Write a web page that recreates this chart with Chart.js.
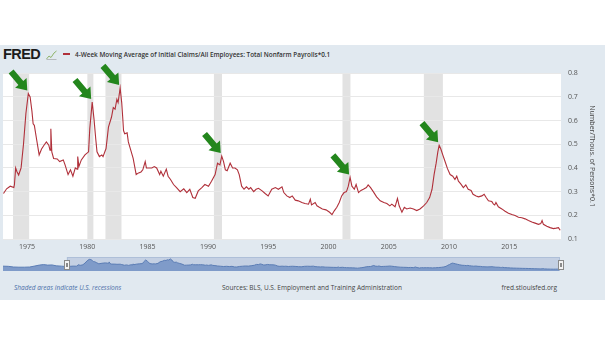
<!DOCTYPE html>
<html><head><meta charset="utf-8">
<script src="https://cdn.jsdelivr.net/npm/chart.js@4/dist/chart.umd.min.js"></script>
<style>
html,body{margin:0;padding:0;background:#fff;width:605px;height:341px;overflow:hidden;font-family:"Open Sans",sans-serif;}
#panel{position:absolute;left:0;top:45px;width:605px;height:255px;background:#e1e9f0;}
#logo{position:absolute;left:3px;top:46px;font-family:"Liberation Sans",Arial,sans-serif;font-weight:bold;font-size:14.5px;letter-spacing:-0.6px;color:#1c1c1c;line-height:16px;}
#icon{position:absolute;left:46px;top:50px;}
#legend{position:absolute;left:63px;top:50px;font-size:6.4px;font-weight:600;color:#333;line-height:10px;white-space:nowrap;}
#legend .dash{display:inline-block;width:7px;height:1.6px;background:#b0303a;vertical-align:middle;margin-right:5px;position:relative;top:-1px;}
.foot{position:absolute;top:283px;font-size:6.5px;line-height:10px;white-space:nowrap;color:#444;}
canvas{position:absolute;left:0;}
</style></head><body>
<div id="panel"></div>
<div id="logo">FRED</div>
<svg id="icon" width="11" height="10" viewBox="0 0 11 10"><polyline points="0.5,9 3,6 5,7.5 8,3 10.5,1" fill="none" stroke="#8fb46a" stroke-width="1"/><line x1="0.5" y1="9.5" x2="10.5" y2="9.5" stroke="#999" stroke-width="0.6"/></svg>
<div id="legend"><span class="dash"></span>4-Week Moving Average of Initial Claims/All Employees: Total Nonfarm Payrolls*0.1</div>
<canvas id="main" width="605" height="193" style="top:62px;width:605px;height:193px"></canvas>
<canvas id="nav" width="605" height="20" style="top:255px;width:605px;height:20px"></canvas>
<div class="foot" style="left:14px;color:#4a6ea8;font-style:italic;">Shaded areas indicate U.S. recessions</div>
<div class="foot" style="left:222px;">Sources: BLS, U.S. Employment and Training Administration</div>
<div class="foot" style="right:48px;">fred.stlouisfed.org</div>
<script>
// ---- data ----
const years = [1973.04,1973.3,1973.6,1973.9,1973.95,1974.05,1974.15,1974.3,1974.5,1974.7,1974.9,1975.1,1975.25,1975.4,1975.5,1975.6,1975.8,1976.0,1976.2,1976.4,1976.6,1976.8,1976.9,1976.97,1977.05,1977.2,1977.5,1977.7,1978.0,1978.15,1978.4,1978.6,1978.8,1979.0,1979.15,1979.2,1979.3,1979.5,1979.8,1980.1,1980.2,1980.4,1980.55,1980.7,1980.8,1981.0,1981.2,1981.3,1981.55,1981.75,1982.0,1982.15,1982.3,1982.45,1982.55,1982.72,1982.85,1982.95,1983.0,1983.1,1983.3,1983.4,1983.6,1983.8,1984.05,1984.25,1984.45,1984.6,1984.8,1984.9,1985.1,1985.35,1985.55,1985.75,1986.0,1986.1,1986.3,1986.55,1986.7,1986.9,1987.15,1987.4,1987.7,1988.0,1988.25,1988.5,1988.75,1988.95,1989.2,1989.5,1989.75,1990.05,1990.3,1990.6,1990.8,1991.0,1991.15,1991.3,1991.45,1991.6,1991.85,1992.05,1992.25,1992.45,1992.6,1992.8,1993.0,1993.2,1993.4,1993.55,1993.8,1994.0,1994.2,1994.5,1994.75,1995.0,1995.3,1995.6,1995.85,1996.15,1996.3,1996.55,1996.8,1997.0,1997.25,1997.5,1997.8,1998.05,1998.35,1998.5,1998.6,1998.9,1999.05,1999.25,1999.5,1999.8,2000.1,2000.3,2000.5,2000.7,2000.9,2001.1,2001.3,2001.5,2001.65,2001.8,2001.95,2002.15,2002.3,2002.5,2002.7,2002.9,2003.15,2003.3,2003.5,2003.75,2004.0,2004.3,2004.6,2004.85,2005.1,2005.26,2005.53,2005.73,2005.87,2006.1,2006.3,2006.5,2006.78,2007.06,2007.33,2007.6,2007.9,2008.16,2008.4,2008.6,2008.77,2008.94,2009.08,2009.19,2009.33,2009.49,2009.68,2009.88,2010.1,2010.32,2010.5,2010.65,2010.79,2010.98,2011.2,2011.4,2011.6,2011.84,2012.0,2012.26,2012.45,2012.73,2012.92,2013.09,2013.28,2013.56,2013.7,2013.8,2013.9,2014.1,2014.39,2014.66,2014.94,2015.22,2015.49,2015.77,2016.05,2016.32,2016.6,2016.88,2017.15,2017.43,2017.62,2017.73,2017.84,2018.12,2018.4,2018.67,2018.9,2019.09,2019.23];
const values = [0.292,0.312,0.323,0.317,0.33,0.40,0.385,0.37,0.40,0.50,0.63,0.714,0.70,0.64,0.586,0.58,0.517,0.455,0.48,0.496,0.51,0.496,0.475,0.565,0.468,0.44,0.438,0.427,0.434,0.413,0.372,0.392,0.365,0.40,0.395,0.448,0.406,0.434,0.455,0.468,0.565,0.678,0.607,0.52,0.468,0.448,0.455,0.448,0.482,0.572,0.614,0.655,0.648,0.69,0.676,0.738,0.676,0.60,0.558,0.544,0.548,0.51,0.475,0.44,0.372,0.379,0.383,0.392,0.427,0.40,0.40,0.40,0.406,0.40,0.372,0.386,0.365,0.395,0.365,0.351,0.33,0.317,0.30,0.312,0.296,0.31,0.275,0.272,0.303,0.317,0.33,0.323,0.344,0.372,0.42,0.413,0.45,0.427,0.392,0.388,0.42,0.40,0.40,0.392,0.372,0.323,0.31,0.32,0.31,0.317,0.30,0.31,0.314,0.303,0.292,0.282,0.31,0.317,0.31,0.32,0.296,0.282,0.275,0.282,0.264,0.261,0.254,0.25,0.247,0.268,0.244,0.254,0.24,0.234,0.227,0.223,0.213,0.203,0.22,0.234,0.254,0.282,0.296,0.30,0.323,0.36,0.323,0.31,0.33,0.296,0.305,0.31,0.317,0.328,0.317,0.298,0.278,0.261,0.254,0.25,0.24,0.247,0.236,0.271,0.24,0.213,0.234,0.227,0.231,0.227,0.22,0.227,0.24,0.254,0.275,0.31,0.372,0.42,0.468,0.496,0.48,0.455,0.427,0.397,0.372,0.365,0.351,0.365,0.344,0.333,0.317,0.328,0.31,0.305,0.289,0.282,0.278,0.282,0.289,0.275,0.261,0.258,0.247,0.244,0.254,0.236,0.227,0.217,0.209,0.203,0.199,0.192,0.19,0.185,0.178,0.172,0.167,0.162,0.165,0.178,0.162,0.154,0.148,0.144,0.146,0.148,0.137];
const navYearsPre = [1967.0,1967.5,1968.0,1968.5,1969.0,1969.5,1970.0,1970.4,1970.8,1971.2,1971.6,1972.0,1972.5,1972.9];
const navValuesPre = [0.32,0.31,0.27,0.26,0.26,0.27,0.33,0.38,0.41,0.38,0.39,0.34,0.32,0.30];
const recessionStarts = [1973.83,1980.0,1981.5,1990.5,2001.17,2007.92];
const recessionEnds   = [1975.17,1980.5,1982.83,1991.17,2001.83,2009.5];
const tickYears = [1975,1980,1985,1990,1995,2000,2005,2010,2015];
const yTicks = [0.1,0.2,0.3,0.4,0.5,0.6,0.7,0.8];
const arrowYears = [1975.1,1980.4,1982.72,1991.15,2001.8,2009.19];
const xMin = 1973.0, xMax = 2019.3, navMin = 1967.0;

// ---- plugins ----
const bgPlugin = {
  id:'bg',
  beforeDraw(chart){
    const {ctx, chartArea:a, scales:{x}} = chart;
    ctx.save();
    ctx.fillStyle = '#ffffff';
    ctx.fillRect(a.left, a.top, a.right-a.left, a.bottom-a.top);
    ctx.fillStyle = '#e2e2e2';
    recessionStarts.forEach((s,i)=>{
      const x0 = Math.max(a.left, x.getPixelForValue(s));
      const x1 = Math.min(a.right, x.getPixelForValue(recessionEnds[i]));
      ctx.fillRect(x0, a.top, x1-x0, a.bottom-a.top);
    });
    ctx.restore();
  }
};
const arrowPlugin = {
  id:'arrows',
  afterDatasetsDraw(chart){
    const {ctx, scales:{x,y}} = chart;
    ctx.save();
    ctx.fillStyle = '#23861c';
    arrowYears.forEach(yr=>{
      const i = years.indexOf(yr);
      const px = x.getPixelForValue(years[i]) - 1;
      const py = y.getPixelForValue(values[i]) - 3;
      const ang = Math.atan2(20,17);
      ctx.save();
      ctx.translate(px, py);
      ctx.rotate(ang);
      ctx.beginPath();
      ctx.moveTo(0,0); ctx.lineTo(-10,-7.5); ctx.lineTo(-10,-3.2); ctx.lineTo(-25,-3.2);
      ctx.lineTo(-25,3.2); ctx.lineTo(-10,3.2); ctx.lineTo(-10,7.5); ctx.closePath();
      ctx.fill();
      ctx.restore();
    });
    ctx.restore();
  }
};
const navPlugin = {
  id:'navband',
  beforeDatasetsDraw(chart){
    const {ctx, chartArea:a, scales:{x}} = chart;
    const x0 = x.getPixelForValue(xMin);
    ctx.save();
    ctx.fillStyle = '#c4d0e3';
    ctx.fillRect(x0, a.top, a.right-x0, a.bottom-a.top);
    ctx.strokeStyle = '#aebfd8'; ctx.lineWidth = 1;
    ctx.strokeRect(x0+0.5, a.top+0.5, a.right-x0-1, a.bottom-a.top-1);
    ctx.restore();
  },
  afterDraw(chart){
    const {ctx, chartArea:a, scales:{x}} = chart;
    const cy = (a.top+a.bottom)/2;
    [x.getPixelForValue(xMin), x.getPixelForValue(xMax)].forEach(hx=>{
      ctx.save();
      ctx.fillStyle='#f4f4f4'; ctx.strokeStyle='#8a8a8a'; ctx.lineWidth=1;
      const l = Math.round(hx-2.5)+0.5, t = Math.round(cy-4.5)+0.5;
      ctx.fillRect(l,t,5,9); ctx.strokeRect(l,t,5,9);
      ctx.beginPath(); ctx.moveTo(l+2,t+2.5); ctx.lineTo(l+2,t+6.5); ctx.moveTo(l+3,t+2.5); ctx.lineTo(l+3,t+6.5); ctx.stroke();
      ctx.restore();
    });
  }
};

// ---- main chart ----
const font = {family:'"Open Sans", sans-serif', size:7};
new Chart(document.getElementById('main'), {
  type:'line',
  data:{datasets:[{data: years.map((v,i)=>({x:v, y:values[i]})), borderColor:'#b0303a', borderWidth:1.1, pointRadius:0, tension:0, fill:false}]},
  options:{
    responsive:false, animation:false, devicePixelRatio:1,
    layout:{padding:{left:3, top:8, right:0, bottom:0}},
    plugins:{legend:{display:false}, tooltip:{enabled:false}},
    scales:{
      x:{type:'linear', min:xMin, max:xMax,
        afterBuildTicks:s=>{ s.ticks = tickYears.map(v=>({value:v})); },
        afterFit:s=>{ s.height = 16; },
        grid:{display:false, drawTicks:false}, border:{display:false},
        ticks:{padding:4, color:'#555', font, maxRotation:0, autoSkip:false, callback:v=>String(v)}},
      y:{position:'right', min:0.1, max:0.8,
        afterBuildTicks:s=>{ s.ticks = yTicks.map(v=>({value:v})); },
        afterFit:s=>{ s.width = 44; },
        grid:{color:'#e8e8e8', drawTicks:false, lineWidth:1}, border:{display:false},
        ticks:{padding:7, color:'#555', font, callback:v=>Number(v).toFixed(1)},
        title:{display:true, text:'Number/Thous. of Persons*0.1', color:'#444', font, padding:{top:9, bottom:0}}}
    }
  },
  plugins:[bgPlugin, arrowPlugin]
});

// ---- navigator ----
const navX = navYearsPre.concat(years), navY = navValuesPre.concat(values);
new Chart(document.getElementById('nav'), {
  type:'line',
  data:{datasets:[{data: navX.map((v,i)=>({x:v, y:navY[i]})), borderColor:'#5b7db5', borderWidth:1, backgroundColor:'#7f9bc9', fill:'start', pointRadius:0, tension:0}]},
  options:{
    responsive:false, animation:false, devicePixelRatio:1,
    layout:{padding:{left:3, right:45, top:2, bottom:4}},
    plugins:{legend:{display:false}, tooltip:{enabled:false}},
    scales:{x:{type:'linear', display:false, min:navMin, max:xMax}, y:{display:false, min:0.04, max:0.85}}
  },
  plugins:[navPlugin]
});
</script>
</body></html>
